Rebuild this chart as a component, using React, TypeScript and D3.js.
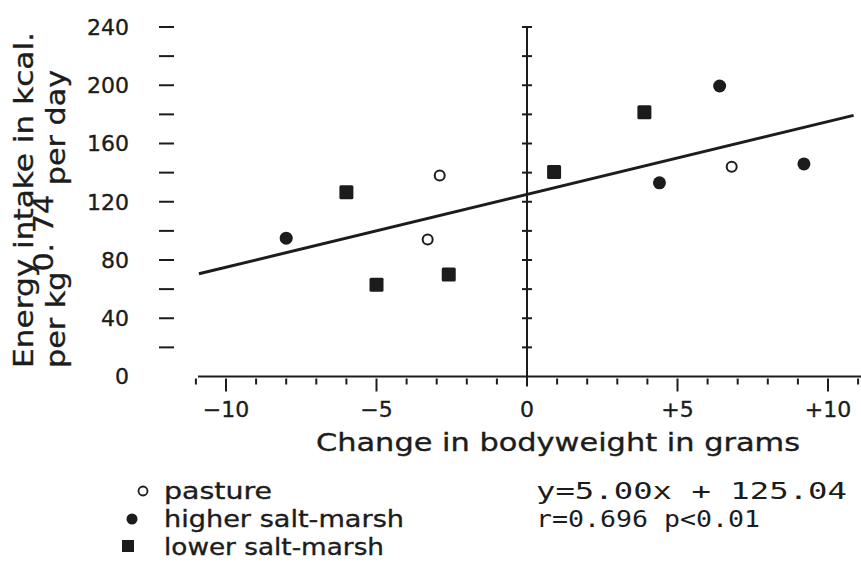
import React from "react";
import * as d3 from "d3";

// ---- data ----
const pastureX = [-2.9, -3.3, 6.8];
const pastureY = [138, 94, 144];
const higherX = [-8.0, 4.4, 6.4, 9.2];
const higherY = [95, 133, 199.5, 146];
const lowerX = [-6.0, -5.0, -2.6, 0.9, 3.9];
const lowerY = [126.5, 63, 70, 140.5, 181.5];

const slope = 5.0;
const intercept = 125.04;
const lineDomain = [-10.9, 10.85];

const yLabelTicks = [0, 40, 80, 120, 160, 200, 240];
const yMarkTicks = [20, 40, 60, 80, 100, 120, 140, 160, 180, 200, 220, 240];
const xMajorTicks = [-10, -5, 0, 5, 10];
const xMajorLabels = ["\u221210", "\u22125", "0", "+5", "+10"];
const xMinorTicks = d3.range(-11, 12).filter((v) => v !== 0);

const legendLabels = ["pasture", "higher salt-marsh", "lower salt-marsh"];
const eqLines = ["y=5.00x + 125.04", "r=0.696 p<0.01"];

const W = 861;
const H = 564;
const INK = "#1c1c1c";
const FONT = "'DejaVu Sans', Verdana, sans-serif";
const MONO = "'DejaVu Sans Mono', 'Liberation Mono', monospace";
const TS = 0.35; // slight text stroke to mimic the heavier scanned glyphs

export default function App() {
  const x = d3.scaleLinear().domain([-10, 10]).range([226, 828]);
  const y = d3.scaleLinear().domain([0, 240]).range([376.5, 27]);
  const x0 = x(0);
  const yAxisY = y(0);

  const regLine = d3
    .line<number>()
    .x((d) => x(d))
    .y((d) => y(slope * d + intercept));

  return (
    <svg
      width={W}
      height={H}
      viewBox={`0 0 ${W} ${H}`}
      style={{ position: "absolute", left: 0, top: 0, background: "#fff" }}
    >
      <rect x={0} y={0} width={W} height={H} fill="#fff" />

      {/* left tick marks */}
      {yMarkTicks.map((v) => (
        <line key={"yt" + v} x1={159} x2={174} y1={y(v)} y2={y(v)} stroke={INK} strokeWidth={2} />
      ))}
      {/* left tick labels */}
      {yLabelTicks.map((v) => (
        <text
          key={"yl" + v}
          x={129}
          y={y(v)}
          dy="0.36em"
          textAnchor="end"
          fontFamily={FONT}
          fontSize={22}
          fill={INK}
          stroke={INK}
          strokeWidth={TS}
        >
          {v}
        </text>
      ))}

      {/* y title */}
      <g transform="rotate(-90)" fontFamily={FONT} fill={INK} stroke={INK} strokeWidth={TS}>
        <text x={-368} y={33} fontSize={26} textLength={336} lengthAdjust="spacingAndGlyphs">
          Energy intake in kcal.
        </text>
        <text x={-368} y={65} fontSize={26} textLength={298} lengthAdjust="spacingAndGlyphs">
          per kg<tspan dy={-12}>0. 74</tspan>
          <tspan dy={12}> per day</tspan>
        </text>
      </g>

      {/* x axis line */}
      <line x1={198} x2={W} y1={yAxisY} y2={yAxisY} stroke={INK} strokeWidth={2.2} />
      {xMinorTicks.map((v) => {
        const major = v % 5 === 0;
        return (
          <line
            key={"xt" + v}
            x1={x(v)}
            x2={x(v)}
            y1={yAxisY + 2}
            y2={yAxisY + (major ? 15 : 8)}
            stroke={INK}
            strokeWidth={2}
          />
        );
      })}
      {xMajorTicks.map((v, i) => (
        <text
          key={"xl" + v}
          x={x(v)}
          y={417}
          textAnchor="middle"
          fontFamily={FONT}
          fontSize={22}
          fill={INK}
          stroke={INK}
          strokeWidth={TS}
        >
          {xMajorLabels[i]}
        </text>
      ))}

      {/* vertical zero axis */}
      <line x1={x0} x2={x0} y1={y(240)} y2={yAxisY + 10} stroke={INK} strokeWidth={2} />
      {yMarkTicks.map((v) => (
        <line key={"vt" + v} x1={x0 - 5} x2={x0 + 5} y1={y(v)} y2={y(v)} stroke={INK} strokeWidth={2} />
      ))}

      {/* x title */}
      <text
        x={316}
        y={451}
        fontFamily={FONT}
        fontSize={24}
        fill={INK}
        stroke={INK}
        strokeWidth={TS}
        textLength={484}
        lengthAdjust="spacingAndGlyphs"
      >
        Change in bodyweight in grams
      </text>

      {/* regression line */}
      <path d={regLine(lineDomain) || ""} fill="none" stroke={INK} strokeWidth={3} />

      {/* points */}
      {pastureX.map((v, i) => (
        <circle key={"p" + i} cx={x(v)} cy={y(pastureY[i])} r={5} fill="#fff" stroke={INK} strokeWidth={2} />
      ))}
      {higherX.map((v, i) => (
        <circle key={"h" + i} cx={x(v)} cy={y(higherY[i])} r={6.5} fill={INK} />
      ))}
      {lowerX.map((v, i) => (
        <rect key={"l" + i} x={x(v) - 7} y={y(lowerY[i]) - 7} width={14} height={14} rx={1.5} fill={INK} />
      ))}

      {/* legend */}
      <circle cx={143} cy={491} r={4.5} fill="#fff" stroke={INK} strokeWidth={1.8} />
      <circle cx={132} cy={519} r={5.5} fill={INK} />
      <rect x={122} y={540} width={12} height={12} fill={INK} />
      {legendLabels.map((t, i) => (
        <text
          key={"lg" + i}
          x={164}
          y={499 + i * 28}
          fontFamily={FONT}
          fontSize={23}
          fill={INK}
          stroke={INK}
          strokeWidth={TS}
          textLength={[108, 240, 220][i]}
          lengthAdjust="spacingAndGlyphs"
        >
          {t}
        </text>
      ))}

      {/* equation */}
      {eqLines.map((t, i) => (
        <text
          key={"eq" + i}
          x={536}
          y={499 + i * 28}
          fontFamily={MONO}
          fontSize={23}
          fill={INK}
          textLength={[311, 224][i]}
          lengthAdjust="spacingAndGlyphs"
        >
          {t}
        </text>
      ))}
    </svg>
  );
}
